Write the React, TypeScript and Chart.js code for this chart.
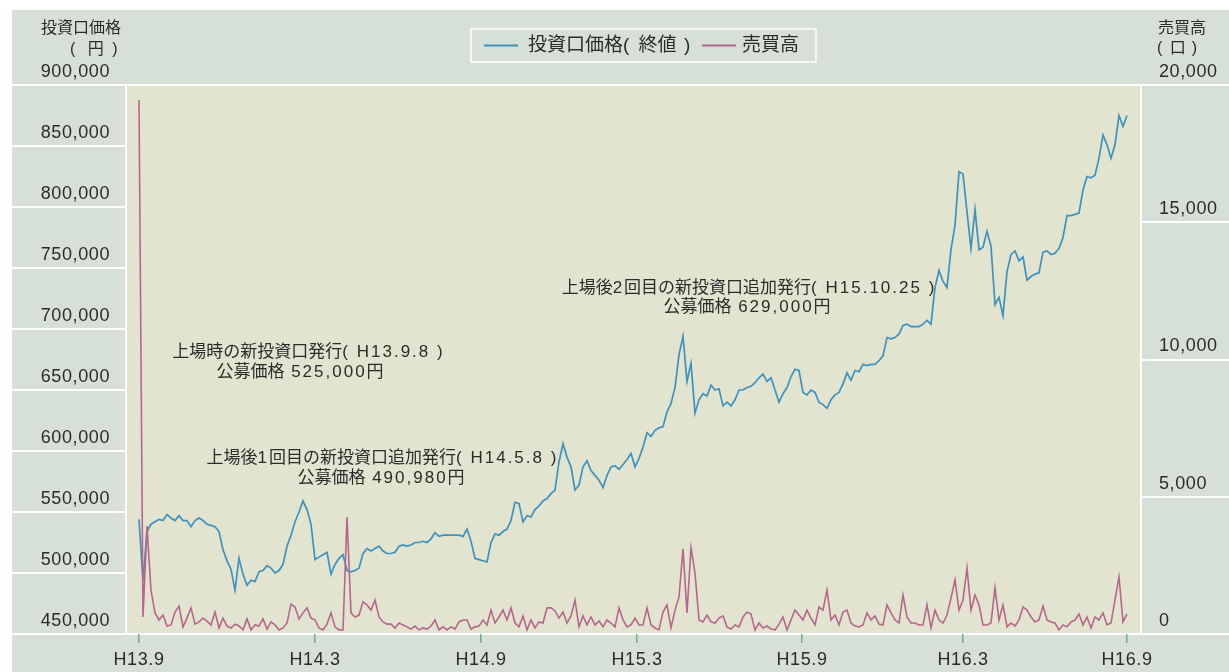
import React, { useEffect, useRef } from "react";
import { Chart, registerables } from "chart.js";
Chart.register(...registerables);

// 投資口価格(終値) in thousand yen, evenly spaced samples from H13.9 to H16.9
const priceK = [
  544, 494, 534, 540, 542, 544, 543, 548, 545, 543,
  547, 543, 543, 538, 543, 545, 543, 540, 539, 538,
  534, 519, 510, 503, 486, 512, 499, 490, 494, 493,
  501, 502, 506, 504, 500, 502, 507, 522, 531, 542,
  550, 559, 552, 540, 511, 513, 515, 517, 499, 507,
  512, 515, 502, 501, 502, 504, 516, 520, 518, 520,
  522, 518, 516, 516, 517, 522, 523, 522, 523, 525,
  525, 526, 525, 528, 533, 530, 531, 531, 531, 531,
  531, 530, 536, 526, 512, 511, 510, 509, 525, 532,
  531, 534, 536, 543, 558, 557, 542, 547, 546, 552,
  555, 559, 561, 565, 568, 591, 606, 595, 587, 568,
  572, 587, 592, 584, 580, 576, 570, 580, 587, 588,
  585, 589, 593, 598, 587, 594, 603, 615, 612, 617,
  619, 620, 632, 639, 652, 679, 694, 657, 672, 631,
  642, 647, 645, 654, 650, 651, 637, 640, 637, 642,
  650, 650, 652, 653, 656, 660, 663, 657, 660, 650,
  640, 647, 652, 661, 667, 666, 648, 646, 650, 648,
  640, 638, 635, 642, 646, 648, 655, 664, 658, 666,
  665, 671, 670, 671, 671, 674, 678, 693, 692, 693,
  696, 703, 704, 702, 702, 702, 704, 707, 704, 734,
  748, 739, 734, 765, 785, 829, 827, 796, 766, 798,
  765, 767, 780, 768, 720, 726, 711, 747, 761, 764,
  756, 759, 740, 743, 745, 746, 763, 764, 761, 762,
  766, 775, 793, 793, 794, 795, 814, 825, 824, 826,
  840, 859, 851, 840, 851, 875, 866, 875,
];

// 売買高 (口), same sample positions
const volume = [
  19450, 620, 3930, 1600, 770, 510, 690, 290, 330, 800,
  1020, 260, 580, 950, 360, 440, 580, 470, 330, 800,
  220, 580, 290, 220, 360, 290, 150, 550, 150, 330,
  290, 550, 180, 440, 330, 150, 220, 400, 1090, 980,
  550, 770, 950, 580, 510, 220, 150, 360, 770, 260,
  150, 150, 4260, 770, 620, 690, 1170, 1060, 870, 1240,
  620, 440, 360, 360, 220, 400, 330, 260, 180, 290,
  150, 220, 180, 290, 510, 150, 260, 150, 260, 180,
  440, 510, 510, 180, 260, 290, 510, 330, 870, 400,
  620, 870, 510, 950, 400, 260, 660, 150, 510, 220,
  440, 400, 950, 950, 840, 580, 800, 400, 660, 1240,
  260, 660, 330, 620, 330, 470, 260, 510, 400, 260,
  950, 510, 260, 330, 580, 330, 330, 950, 330, 220,
  150, 800, 1060, 220, 870, 1350, 3100, 770, 3150, 2220,
  510, 440, 690, 440, 400, 580, 660, 260, 180, 330,
  260, 620, 800, 730, 150, 400, 220, 290, 180, 150,
  360, 620, 150, 510, 870, 690, 510, 870, 580, 330,
  980, 870, 1600, 510, 690, 330, 800, 870, 400, 290,
  260, 330, 770, 510, 660, 360, 330, 1060, 770, 510,
  400, 1420, 620, 400, 400, 330, 330, 1060, 220, 870,
  510, 400, 690, 1310, 1970, 870, 1240, 2400, 870, 1420,
  1060, 330, 330, 400, 1680, 510, 1060, 260, 400, 290,
  510, 980, 870, 620, 440, 510, 1020, 510, 440, 400,
  150, 330, 260, 440, 510, 730, 330, 620, 220, 620,
  510, 770, 330, 400, 1240, 2080, 440, 730,
];

// x tick positions (in sample index units) and their labels
const xTickValues = [0, 44, 85.5, 124.5, 165.75, 206, 247];
const xTickLabels = ["H13.9", "H14.3", "H14.9", "H15.3", "H15.9", "H16.3", "H16.9"];

const seriesNames = ["投資口価格( 終値 )", "売買高"];

const annotations = [
  { lines: ["上場時の新投資口発行( H13.9.8 )", "公募価格 525,000円"], cx: [295.5, 288], cy: [342, 362] },
  { lines: ["上場後1回目の新投資口追加発行( H14.5.8 )", "公募価格 490,980円"], cx: [369.5, 369], cy: [448, 468] },
  { lines: ["上場後2回目の新投資口追加発行( H15.10.25 )", "公募価格 629,000円"], cx: [736, 735], cy: [278, 297.5] },
];

const FONT = '"Liberation Sans", Arial, "Noto Sans CJK JP", sans-serif';
const TEXT = "#2b2b2b";
const BLUE = "#3d92c0";
const PINK = "#b5678b";
const OUTER_BG = "#d6e0d6";
const PLOT_BG = "#e3e4cf";
const TICK_GREEN = "#6fae7c";

function drawSpaced(ctx: CanvasRenderingContext2D, text: string, x: number, y: number, align: string, sp: number) {
  const chars = Array.from(text);
  const ws = chars.map((c) => ctx.measureText(c).width + (c.charCodeAt(0) < 128 ? sp : 0));
  let total = ws.reduce((a, b) => a + b, 0);
  if (chars.length && chars[chars.length - 1].charCodeAt(0) < 128) total -= sp;
  let cx = align === "center" ? x - total / 2 : align === "right" ? x - total : x;
  ctx.textAlign = "left";
  chars.forEach((c, i) => {
    ctx.fillText(c, cx, y);
    cx += ws[i];
  });
}

const framePlugin = {
  id: "frame",
  beforeDraw(chart: any) {
    const { ctx, chartArea: a, width } = chart;
    ctx.save();
    ctx.fillStyle = PLOT_BG;
    ctx.fillRect(a.left, a.top, a.right - a.left, a.bottom - a.top);
    ctx.strokeStyle = "#ffffff";
    ctx.lineWidth = 2;
    const line = (x1: number, y1: number, x2: number, y2: number) => {
      ctx.beginPath();
      ctx.moveTo(x1, y1);
      ctx.lineTo(x2, y2);
      ctx.stroke();
    };
    const yl = chart.scales.y;
    const yr = chart.scales.y1;
    yl.ticks.forEach((t: any) => {
      const py = Math.round(yl.getPixelForValue(t.value));
      line(0, py, a.left, py);
    });
    yr.ticks.forEach((t: any) => {
      const py = Math.round(yr.getPixelForValue(t.value));
      line(a.right, py, width, py);
    });
    line(0, a.top, width, a.top);
    line(0, a.bottom, width, a.bottom);
    line(a.left, a.top, a.left, a.bottom);
    line(a.right, a.top, a.right, a.bottom);
    ctx.restore();
    // slightly spaced digits for the axis tick labels
    (ctx as any).letterSpacing = "0.6px";
  },
  afterDraw(chart: any) {
    const { ctx } = chart;
    (ctx as any).letterSpacing = "0px";
    ctx.save();
    ctx.fillStyle = TEXT;
    ctx.textBaseline = "middle";
    // axis titles
    ctx.font = `16px ${FONT}`;
    ctx.textAlign = "left";
    ctx.fillText("投資口価格", 29, 19);
    drawSpaced(ctx, "( 円 )", 58, 40, "left", 4);
    ctx.fillText("売買高", 1146, 19);
    drawSpaced(ctx, "( 口 )", 1145, 39, "left", 1.5);

    // legend
    const lx = 459, ly = 19, lw = 345, lh = 33;
    ctx.strokeStyle = "#ffffff";
    ctx.lineWidth = 1.5;
    ctx.strokeRect(lx, ly, lw, lh);
    const my = ly + lh / 2;
    ctx.lineWidth = 2;
    ctx.strokeStyle = BLUE;
    ctx.beginPath();
    ctx.moveTo(472, my);
    ctx.lineTo(506, my);
    ctx.stroke();
    ctx.strokeStyle = PINK;
    ctx.beginPath();
    ctx.moveTo(690, my);
    ctx.lineTo(724, my);
    ctx.stroke();
    ctx.font = `19px ${FONT}`;
    drawSpaced(ctx, seriesNames[0], 516, my, "left", 2);
    drawSpaced(ctx, seriesNames[1], 730, my, "left", 2);

    // annotations
    ctx.font = `17px ${FONT}`;
    annotations.forEach((an) => {
      an.lines.forEach((t, i) => drawSpaced(ctx, t, an.cx[i], an.cy[i], "center", 2));
    });
    ctx.restore();
  },
};

export default function App() {
  const ref = useRef<HTMLCanvasElement>(null);
  useEffect(() => {
    if (!ref.current) return;
    const tickFont = { size: 18, family: FONT };
    const chart = new Chart(ref.current, {
      type: "line",
      data: {
        datasets: [
          {
            label: seriesNames[0],
            data: priceK.map((v, i) => ({ x: i, y: v * 1000 })),
            yAxisID: "y",
            borderColor: BLUE,
            borderWidth: 1.7,
            pointRadius: 0,
            tension: 0,
            order: 1,
          },
          {
            label: seriesNames[1],
            data: volume.map((v, i) => ({ x: i, y: v })),
            yAxisID: "y1",
            borderColor: PINK,
            borderWidth: 1.6,
            pointRadius: 0,
            tension: 0,
            order: 0,
          },
        ],
      },
      options: {
        responsive: false,
        animation: false,
        devicePixelRatio: 1,
        layout: { padding: { top: 75, left: 0, right: 0, bottom: 0 } },
        plugins: { legend: { display: false }, tooltip: { enabled: false } },
        scales: {
          x: {
            type: "linear",
            min: -3.25,
            max: 250.5,
            afterBuildTicks: (s: any) => {
              s.ticks = xTickValues.map((v) => ({ value: v }));
            },
            afterFit: (s: any) => {
              s.height = 38;
            },
            grid: { display: true, drawOnChartArea: false, drawTicks: true, tickLength: 9, color: TICK_GREEN, lineWidth: 1.5 },
            border: { display: false },
            ticks: {
              autoSkip: false,
              maxRotation: 0,
              padding: 6,
              color: TEXT,
              font: tickFont,
              callback: (v: any) => {
                const k = xTickValues.indexOf(Number(v));
                return k >= 0 ? xTickLabels[k] : "";
              },
            },
          },
          y: {
            position: "left",
            min: 450000,
            max: 900000,
            grid: { display: false, drawTicks: false },
            border: { display: false },
            afterFit: (s: any) => {
              s.width = 114;
            },
            ticks: {
              stepSize: 50000,
              padding: 16,
              labelOffset: -13,
              color: TEXT,
              font: tickFont,
              callback: (v: any) => Number(v).toLocaleString("en-US"),
            },
          },
          y1: {
            position: "right",
            min: 0,
            max: 20000,
            grid: { display: false, drawTicks: false },
            border: { display: false },
            afterFit: (s: any) => {
              s.width = 88;
            },
            ticks: {
              stepSize: 5000,
              padding: 18,
              labelOffset: -13,
              color: TEXT,
              font: tickFont,
              callback: (v: any) => Number(v).toLocaleString("en-US"),
            },
          },
        },
      } as any,
      plugins: [framePlugin],
    });
    return () => chart.destroy();
  }, []);

  return (
    <div style={{ position: "absolute", left: 0, top: 0, width: 1229, height: 672, background: "#ffffff" }}>
      <canvas
        ref={ref}
        width={1217}
        height={662}
        style={{ position: "absolute", left: 12, top: 10, width: 1217, height: 662, background: OUTER_BG }}
      />
    </div>
  );
}
